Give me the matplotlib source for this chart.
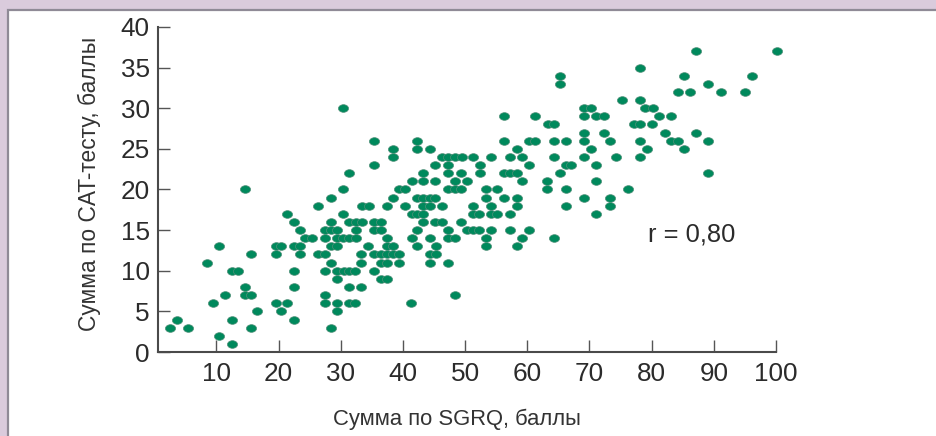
import matplotlib
matplotlib.use("Agg")
import matplotlib.pyplot as plt
from matplotlib.markers import MarkerStyle
from matplotlib.patches import Rectangle
from matplotlib.transforms import Affine2D

plt.rcParams["font.family"] = ["Liberation Sans", "DejaVu Sans"]

# SGRQ sums, grouped by CAT score
cat_scores = list(range(1, 36)) + [37]
sgrq_by_cat = [
    [12.5],
    [10.4],
    [2.6, 5.5, 15.5, 28.5],
    [3.6, 12.5, 22.4],
    [16.5, 20.4, 29.4],
    [9.4, 19.5, 21.4, 27.5, 29.4, 31.4, 32.3, 41.3],
    [11.4, 14.6, 15.5, 27.5, 48.3],
    [14.6, 22.4, 31.4, 33.3],
    [29.4, 36.5, 37.4],
    [12.5, 13.5, 22.4, 27.5, 29.4, 30.5, 31.4, 32.3, 35.3],
    [8.5, 28.5, 33.3, 36.5, 37.4, 39.4, 44.3, 47.3],
    [15.5, 19.5, 23.4, 26.4, 27.5, 33.3, 35.3, 36.4, 37.4, 38.4, 39.4, 44.3, 45.3],
    [10.4, 19.5, 20.4, 22.4, 23.4, 28.4, 29.4, 34.4, 37.4, 38.4, 42.3, 45.3, 53.3, 58.3],
    [24.3, 25.4, 27.5, 29.4, 30.4, 31.4, 32.4, 37.4, 41.4, 44.3, 47.3, 48.4, 53.3, 59.2, 64.3],
    [23.4, 27.5, 28.4, 29.4, 32.4, 35.3, 36.4, 42.3, 47.3, 50.3, 51.3, 52.2, 54.2, 57.2, 60.3],
    [22.4, 28.4, 31.4, 32.4, 33.4, 35.3, 36.4, 43.3, 45.2, 46.3, 49.4],
    [21.4, 30.4, 41.4, 42.3, 43.3, 51.3, 52.2, 54.2, 55.2, 57.2, 71.1],
    [26.4, 33.4, 34.5, 37.4, 40.4, 43.3, 44.3, 46.3, 51.3, 54.2, 58.3, 66.2, 73.3],
    [28.4, 38.4, 42.3, 43.3, 44.3, 45.2, 53.3, 56.2, 58.3, 69.1, 73.3],
    [14.6, 30.4, 39.3, 40.4, 47.3, 48.4, 49.4, 53.3, 55.2, 63.2, 66.2, 76.2],
    [41.4, 43.3, 45.2, 48.4, 50.3, 59.2, 63.2, 71.1],
    [31.4, 43.3, 47.3, 49.4, 52.4, 56.2, 57.2, 58.3, 65.2, 89.1],
    [35.3, 45.2, 47.3, 52.4, 60.3, 66.3, 67.1, 71.1],
    [38.4, 46.3, 47.3, 48.4, 49.5, 51.3, 54.2, 57.2, 59.2, 64.3, 69.1, 74.2, 78.1],
    [38.4, 42.3, 44.3, 58.3, 70.2, 79.2, 85.2],
    [35.3, 42.3, 56.2, 60.2, 61.3, 64.3, 66.2, 69.1, 73.3, 78.1, 83.1, 84.2, 89.1],
    [69.1, 72.3, 82.1, 87.2],
    [63.3, 64.3, 77.2, 78.1, 80.1],
    [56.2, 61.3, 69.1, 71.1, 72.3, 81.2, 83.1],
    [30.4, 69.1, 70.2, 79.0, 80.2],
    [75.3, 78.1],
    [84.2, 86.2, 91.1, 95.0],
    [65.2, 89.1],
    [65.2, 85.2, 96.2],
    [78.1],
    [87.2, 100.1],
]
x_ticks = [10, 20, 30, 40, 50, 60, 70, 80, 90, 100]
y_ticks = [0, 5, 10, 15, 20, 25, 30, 35, 40]

W, H = 936, 436
fig = plt.figure(figsize=(W / 100, H / 100), dpi=100, facecolor="#dacbdc")

# white panel with the grey edge on top and left, runs off the right and bottom
fig.add_artist(Rectangle((8 / W, -0.05), 1, 1.05 - 10.5 / H, transform=fig.transFigure,
                         facecolor="white", edgecolor="#8f8a96", linewidth=1.6, zorder=-1))

ax = fig.add_axes([158 / W, (H - 352) / H, (776 - 158) / W, (352 - 27) / H])
ax.patch.set_alpha(0)

sgrq = [x for row in sgrq_by_cat for x in row]
cat = [y for y, row in zip(cat_scores, sgrq_by_cat) for _ in row]
oval = MarkerStyle("o", transform=Affine2D().scale(1.22, 0.92))
ax.scatter(sgrq, cat, s=36, marker=oval, color="#00895c", edgecolors="#4f8f78",
           linewidths=0.5, clip_on=False, zorder=3)

ax.set_xlim(0.6, 100)
ax.set_ylim(0, 40)
ax.set_xticks(x_ticks)
ax.set_yticks(y_ticks)
ax.tick_params(direction="in", length=8.6, width=1, color="#555555",
               labelsize=18.8, labelcolor="#2b2b2b")
ax.tick_params(axis="x", pad=7)
ax.tick_params(axis="y", pad=6)

for side in ["top", "right"]:
    ax.spines[side].set_visible(False)
for side in ["left", "bottom"]:
    ax.spines[side].set_linewidth(1.5)
    ax.spines[side].set_color("#4a4a4a")

fig.text(457 / W, 1 - 419 / H, "Сумма по SGRQ, баллы", fontsize=15.8, color="#333333",
         ha="center", va="center")
fig.text(89 / W, 1 - 184 / H, "Сумма по CAT-тесту, баллы", fontsize=16.4, color="#333333",
         ha="center", va="center", rotation=90)
ax.text(86.4, 14.5, "r = 0,80", fontsize=18.4, color="#2b2b2b", ha="center", va="center")

fig.savefig("out.png", dpi=100, facecolor=fig.get_facecolor())
